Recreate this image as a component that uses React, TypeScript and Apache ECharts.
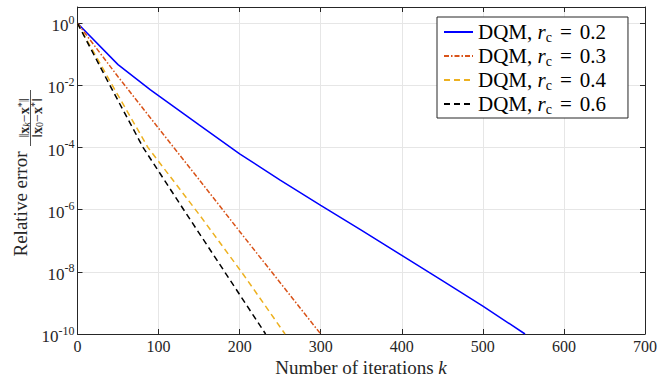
import React, { useEffect, useRef } from 'react';
import * as echarts from 'echarts';

// Iteration counts and relative errors
const blueK = [0, 50, 90, 150, 200, 250, 300, 350, 400, 450, 500, 552];
const blueErr = [1, 4.68e-2, 7.24e-3, 5.37e-4, 6.31e-5, 8.91e-6, 1.38e-6, 2.19e-7, 3.39e-8, 5.25e-9, 7.94e-10, 1e-10];

const orangeK = [0, 50, 100, 150, 200, 250, 300];
const orangeErr = [1, 1.91e-2, 4.17e-4, 9.33e-6, 2.0e-7, 4.47e-9, 1e-10];

const yellowK = [0, 43, 87, 150, 205, 256];
const yellowErr = [1, 1e-2, 1e-4, 7.08e-7, 7.94e-9, 1e-10];

const blackK = [0, 40, 81, 131, 181, 232];
const blackErr = [1, 1e-2, 1e-4, 1e-6, 1.05e-8, 1e-10];

const rcValues = ['0.2', '0.3', '0.4', '0.6'];
const seriesNames = rcValues.map((r) => `DQM, rc = ${r}`);

const FONT = '"Liberation Serif", "DejaVu Serif", serif';
const AX = '#262626';

function pairs(k: number[], v: number[]) {
  return k.map((x, i) => [x, v[i]]);
}

export default function App() {
  const ref = useRef<HTMLDivElement>(null);
  useEffect(() => {
    if (!ref.current) return;
    const chart = echarts.init(ref.current, undefined, { renderer: 'svg' });
    const yFmt = (v: number) => {
      const l = Math.log10(v);
      const e = Math.round(l);
      if (Math.abs(l - e) > 1e-6) return '';
      return `{b|10}{s|${e}}`;
    };
    const yRich = {
      b: { fontSize: 17, fontFamily: FONT, color: AX, padding: [5, 0, 0, 0] },
      s: { fontSize: 12, fontFamily: FONT, color: AX, padding: [0, 0, 7, 0] },
    };
    const mkLine = (name: string, data: number[][], color: string, type: any) => ({
      name,
      type: 'line',
      data,
      symbol: 'none',
      showSymbol: false,
      lineStyle: { color, width: 1.5, type },
      itemStyle: { color },
      z: 3,
    });
    const fracRich = (subItalic: boolean) => ({
      b: { fontWeight: 'bold', fontSize: 14, fontFamily: FONT, fill: AX },
      sub: { fontSize: 10, fontStyle: subItalic ? 'italic' : 'normal', fontFamily: FONT, fill: AX, padding: [5, 0, 0, 0] },
      sup: { fontSize: 10, fontFamily: FONT, fill: AX, padding: [0, 0, 6, 0] },
    });
    chart.setOption({
      animation: false,
      backgroundColor: '#fff',
      grid: { left: 77.5, right: 13, top: 7, bottom: 43, containLabel: false, outerBoundsMode: 'none' } as any,
      xAxis: [
        {
          type: 'value',
          min: 0,
          max: 700,
          interval: 100,
          position: 'bottom',
          axisLine: { show: true, onZero: false, lineStyle: { color: AX, width: 1 } },
          axisTick: { show: true, inside: true, length: 5, lineStyle: { color: AX } },
          axisLabel: { color: AX, fontSize: 16, fontFamily: FONT, margin: 4 },
          splitLine: { show: true, lineStyle: { color: '#e6e6e6', width: 1 } },
        },
        {
          type: 'value',
          min: 0,
          max: 700,
          interval: 100,
          position: 'top',
          axisLine: { show: true, onZero: false, lineStyle: { color: AX, width: 1 } },
          axisTick: { show: true, inside: true, length: 5, lineStyle: { color: AX } },
          axisLabel: { show: false },
          splitLine: { show: false },
        },
      ],
      yAxis: [
        {
          type: 'log',
          logBase: 10,
          min: 1e-10,
          max: 3.35,
          interval: 2,
          position: 'left',
          axisLine: { show: true, onZero: false, lineStyle: { color: AX, width: 1 } },
          axisTick: { show: true, inside: true, length: 5, lineStyle: { color: AX } },
          minorTick: { show: false },
          axisLabel: { formatter: yFmt, rich: yRich, margin: 3, color: AX },
          splitLine: { show: true, lineStyle: { color: '#e6e6e6', width: 1 } },
        },
        {
          type: 'log',
          logBase: 10,
          min: 1e-10,
          max: 3.35,
          interval: 2,
          position: 'right',
          axisLine: { show: true, onZero: false, lineStyle: { color: AX, width: 1 } },
          axisTick: { show: true, inside: true, length: 5, lineStyle: { color: AX } },
          axisLabel: { show: false },
          splitLine: { show: false },
        },
      ],
      legend: {
        orient: 'vertical',
        left: 437,
        top: 17,
        itemWidth: 29,
        itemHeight: 14,
        itemGap: 0,
        itemTextGap: 4,
        padding: [3, 22, 2, 6],
        borderColor: AX,
        borderWidth: 1,
        backgroundColor: '#fff',
        itemStyle: { color: 'rgba(0,0,0,0)', borderWidth: 0, opacity: 0 },
        data: seriesNames,
        formatter: (name: string) => {
          const r = name.split('= ')[1];
          return `DQM, {i|r}{sub|c}{eq|=}${r}`;
        },
        textStyle: {
          color: '#000',
          fontSize: 21,
          lineHeight: 24,
          fontFamily: FONT,
          rich: {
            i: { fontStyle: 'italic', fontSize: 21, lineHeight: 24, fontFamily: FONT, color: '#000' },
            sub: { fontSize: 14, lineHeight: 14, verticalAlign: 'bottom', fontFamily: FONT, color: '#000' },
            eq: { fontSize: 21, lineHeight: 24, fontFamily: FONT, color: '#000', padding: [0, 8, 0, 8] },
          },
        },
      },
      graphic: [
        {
          type: 'text',
          x: 361,
          y: 367,
          style: {
            text: 'Number of iterations {i|k}',
            fontSize: 19,
            fontFamily: FONT,
            fill: AX,
            align: 'center',
            verticalAlign: 'middle',
            rich: { i: { fontStyle: 'italic', fontSize: 19, fontFamily: FONT, fill: AX } },
          },
        },
        {
          type: 'text',
          x: 20,
          y: 204,
          rotation: Math.PI / 2,
          style: {
            text: 'Relative error',
            fontSize: 19,
            fontFamily: FONT,
            fill: AX,
            align: 'center',
            verticalAlign: 'middle',
          },
        },
        {
          type: 'text',
          x: 24,
          y: 118,
          rotation: Math.PI / 2,
          style: {
            text: '‖{b|x}{sub|k}−{b|x}{sup|*}‖',
            fontSize: 14,
            fontFamily: FONT,
            fill: AX,
            align: 'center',
            verticalAlign: 'middle',
            rich: fracRich(true),
          },
        },
        {
          type: 'line',
          shape: { x1: 30.5, y1: 90, x2: 30.5, y2: 146 },
          style: { stroke: AX, lineWidth: 0.8 },
        },
        {
          type: 'text',
          x: 37,
          y: 118,
          rotation: Math.PI / 2,
          style: {
            text: '‖{b|x}{sub|0}−{b|x}{sup|*}‖',
            fontSize: 14,
            fontFamily: FONT,
            fill: AX,
            align: 'center',
            verticalAlign: 'middle',
            rich: fracRich(false),
          },
        },
      ],
      series: [
        mkLine(seriesNames[0], pairs(blueK, blueErr), '#0000ff', 'solid'),
        mkLine(seriesNames[1], pairs(orangeK, orangeErr), '#d95319', [5, 2, 1.5, 2]),
        mkLine(seriesNames[2], pairs(yellowK, yellowErr), '#edb120', [6, 4]),
        mkLine(seriesNames[3], pairs(blackK, blackErr), '#000000', [6, 4]),
      ],
    });
    return () => chart.dispose();
  }, []);
  return <div ref={ref} style={{ width: 658, height: 377, position: 'absolute', left: 0, top: 0 }} />;
}
